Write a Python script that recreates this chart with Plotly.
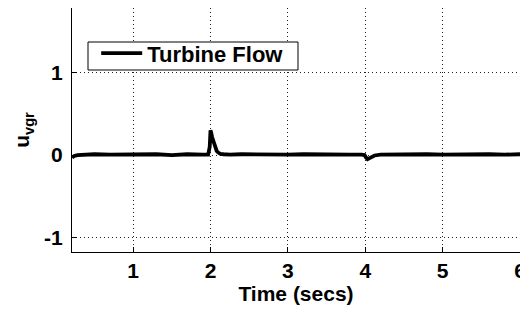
import plotly.graph_objects as go

# Data
time_s = [0.21, 0.24, 0.28, 0.35, 0.5, 0.7, 0.9, 1.1, 1.3, 1.5, 1.7, 1.9, 1.97,
          1.99, 2.0, 2.01, 2.02, 2.04, 2.06, 2.08, 2.1, 2.13, 2.17, 2.25, 2.4,
          2.6, 2.8, 3.0, 3.2, 3.4, 3.6, 3.8, 3.95, 3.99, 4.01, 4.03, 4.05, 4.08,
          4.12, 4.2, 4.4, 4.6, 4.8, 5.0, 5.2, 5.4, 5.6, 5.8, 6.0]
u_vgr = [-0.03, -0.01, 0.0, 0.005, 0.01, 0.005, 0.01, 0.005, 0.01, 0.0, 0.01, 0.005, 0.005,
         0.1, 0.3, 0.27, 0.22, 0.15, 0.09, 0.05, 0.03, 0.015, 0.01, 0.005, 0.01,
         0.005, 0.01, 0.005, 0.01, 0.005, 0.01, 0.005, 0.005, 0.0, -0.03, -0.05, -0.04, -0.02,
         -0.005, 0.005, 0.01, 0.005, 0.01, 0.005, 0.01, 0.005, 0.01, 0.005, 0.01]
x_ticks = [1, 2, 3, 4, 5, 6]
x_tick_labels = ["1", "2", "3", "4", "5", "6"]
y_ticks = [-1, 0, 1]
y_tick_labels = ["-1", "0", "1"]
series_name = "Turbine Flow"

FONT = "Arial, 'Liberation Sans', sans-serif"

fig = go.Figure()
fig.add_trace(go.Scatter(x=time_s, y=u_vgr, mode="lines", name=series_name,
                         line=dict(color="black", width=3.8)))

axis_common = dict(
    showline=True, linecolor="black", linewidth=1, mirror=False,
    ticks="inside", ticklen=5, tickcolor="black",
    showgrid=True, gridcolor="#222", gridwidth=1, griddash="1px,3px",
    zeroline=False, automargin=False,
    tickfont=dict(family=FONT, size=21, color="black", weight="bold"),
)

fig.update_xaxes(range=[0.21, 6.0], tickvals=x_ticks, ticktext=x_tick_labels, **axis_common,
                 title=dict(text="Time (secs)", standoff=0,
                            font=dict(family=FONT, size=21, color="black", weight="bold")))
fig.update_yaxes(range=[-1.18, 1.79], tickvals=y_ticks, ticktext=y_tick_labels, **axis_common,
                 ticklabelstandoff=4,
                 title=dict(text="u<sub>vgr</sub>", standoff=8,
                            font=dict(family=FONT, size=21, color="black", weight="bold")))

# legend frame (white box with black border, drawn above the grid)
fig.add_shape(type="rect", xref="paper", yref="paper",
              x0=16 / 448, x1=226 / 448,
              y0=182 / 244, y1=210 / 244,
              line=dict(color="black", width=1), fillcolor="white", layer="above")

# The page body has an 8px margin, so the figure is sized to end at the window edge
fig.update_layout(
    width=520, height=305,
    margin=dict(l=64, r=8, t=0, b=61),
    plot_bgcolor="white", paper_bgcolor="white",
    showlegend=True,
    legend=dict(x=0.054, y=0.90, xanchor="left", yanchor="top",
                bgcolor="rgba(0,0,0,0)", borderwidth=0,
                font=dict(family=FONT, size=22, color="black", weight="bold"),
                itemwidth=41, tracegroupgap=0),
)

fig.write_html("out.html")
